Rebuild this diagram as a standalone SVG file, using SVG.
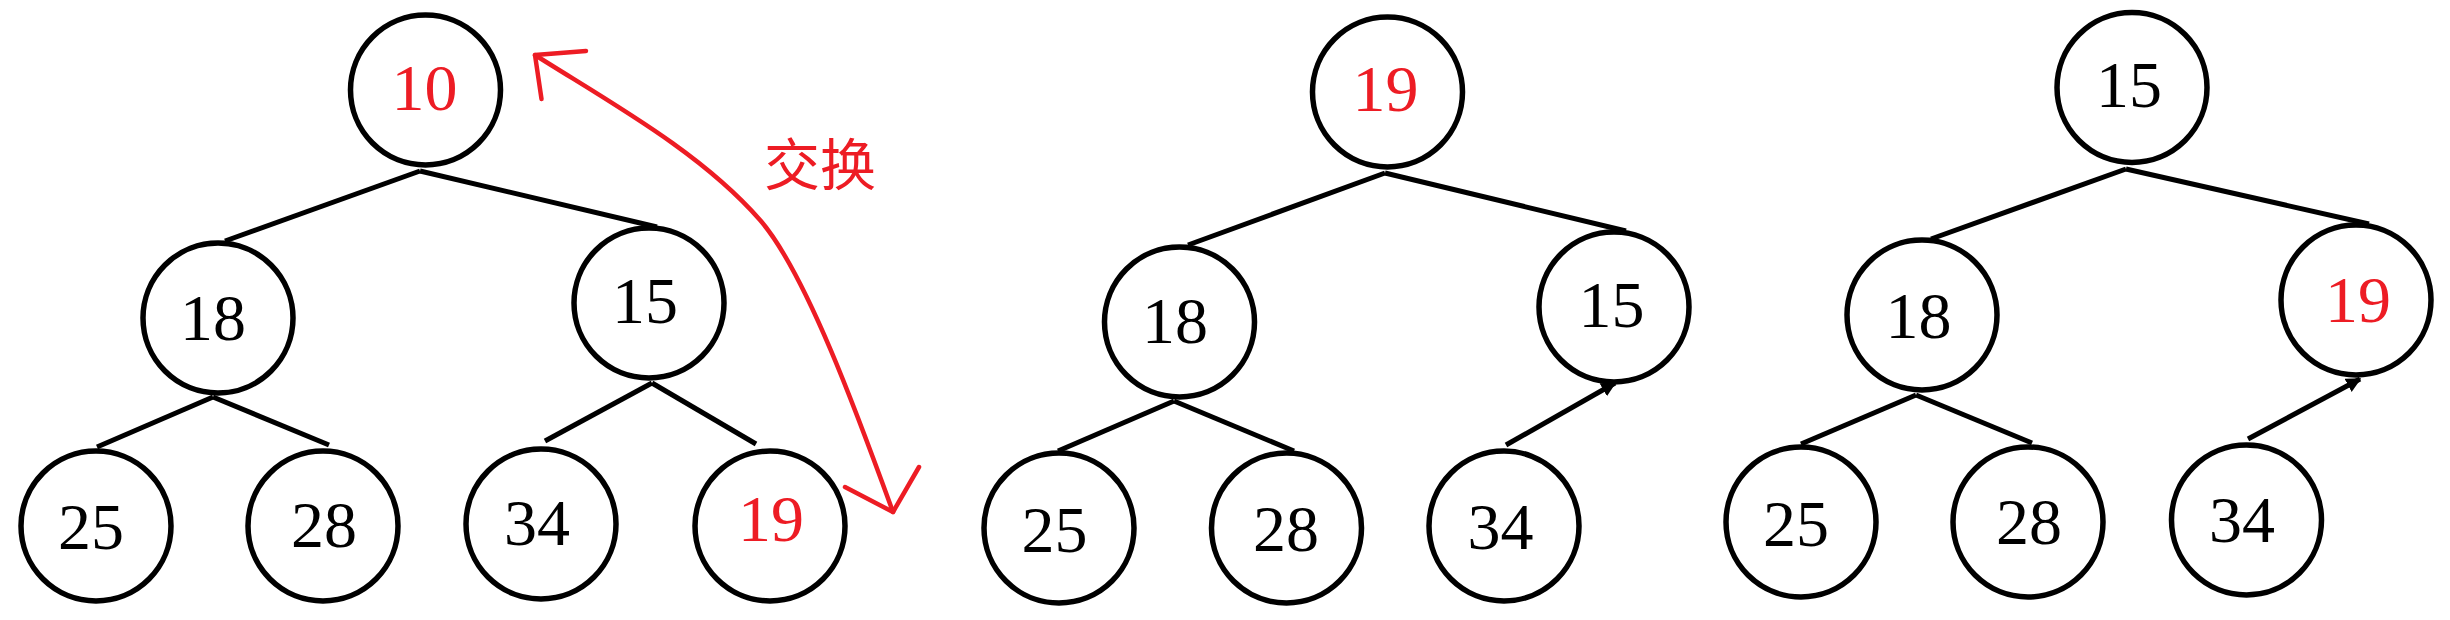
<svg xmlns="http://www.w3.org/2000/svg" width="2450" height="620" viewBox="0 0 2450 620">
<defs>
<style>
.n circle{fill:#fff;stroke:#000;stroke-width:5.5}
.n text{font-family:"Liberation Serif","Times New Roman",serif;font-size:66px;text-anchor:middle;fill:#000}
.n text.r{fill:#ED1C24}
.e line{stroke:#000;stroke-width:5;stroke-linecap:butt}
.sw{fill:none;stroke:#ED1C24;stroke-width:4.5;stroke-linecap:round;stroke-linejoin:round}
.lbl{font-family:"Noto Sans CJK SC","Noto Sans CJK JP",sans-serif;font-size:56px;fill:#ED1C24;text-anchor:middle}
</style>
<marker id="ah" viewBox="0 0 10 10" refX="9" refY="5" markerWidth="3" markerHeight="3" orient="auto" markerUnits="strokeWidth">
<path d="M0,0 L10,5 L0,10 z" fill="#000"/>
</marker>
</defs>
<rect width="2450" height="620" fill="#fff"/>
<g id="connectors" class="e">
<line x1="420" y1="171" x2="225" y2="241"/>
<line x1="420" y1="171" x2="657" y2="227"/>
<line x1="213" y1="397" x2="97" y2="447"/>
<line x1="213" y1="397" x2="329" y2="445"/>
<line x1="652" y1="383" x2="545" y2="441"/>
<line x1="652" y1="383" x2="756" y2="444"/>
<line x1="1385" y1="173" x2="1188" y2="245"/>
<line x1="1385" y1="173" x2="1626" y2="231"/>
<line x1="1174" y1="401" x2="1058" y2="451"/>
<line x1="1174" y1="401" x2="1294" y2="451"/>
<line x1="1506" y1="445" x2="1615" y2="383" marker-end="url(#ah)"/>
<line x1="2126" y1="169" x2="1931" y2="239"/>
<line x1="2126" y1="169" x2="2369" y2="224"/>
<line x1="1916" y1="395" x2="1801" y2="444"/>
<line x1="1916" y1="395" x2="2032" y2="443"/>
<line x1="2248" y1="439" x2="2360" y2="379" marker-end="url(#ah)"/>
</g>
<g id="swap">
<path class="sw" d="M535,55 C611,103 700.8,152.2 760,220 C806,272.7 858.8,418 893,512"/>
<path class="sw" d="M586,51 L535,55 L541.5,99"/>
<path class="sw" d="M845,487 L893,512 L919,467"/>
<text class="lbl" x="820" y="185">交换</text>
</g>
<g id="t1-10" class="n"><circle cx="425.5" cy="90" r="75"/><text class="r" x="424.5" y="110">10</text></g>
<g id="t1-18" class="n"><circle cx="218" cy="318" r="75"/><text x="213" y="340">18</text></g>
<g id="t1-15" class="n"><circle cx="649" cy="303" r="75"/><text x="645" y="323">15</text></g>
<g id="t1-25" class="n"><circle cx="96" cy="526" r="75"/><text x="91" y="549">25</text></g>
<g id="t1-28" class="n"><circle cx="323" cy="526" r="75"/><text x="324" y="547">28</text></g>
<g id="t1-34" class="n"><circle cx="541" cy="524" r="75"/><text x="537" y="545">34</text></g>
<g id="t1-19" class="n"><circle cx="770" cy="526" r="75"/><text class="r" x="771" y="541">19</text></g>
<g id="t2-19" class="n"><circle cx="1387.5" cy="92" r="75"/><text class="r" x="1385.5" y="111">19</text></g>
<g id="t2-18" class="n"><circle cx="1179.5" cy="322" r="75"/><text x="1175" y="343">18</text></g>
<g id="t2-15" class="n"><circle cx="1614" cy="307" r="75"/><text x="1611.5" y="327">15</text></g>
<g id="t2-25" class="n"><circle cx="1059" cy="528" r="75"/><text x="1054.5" y="552">25</text></g>
<g id="t2-28" class="n"><circle cx="1286.5" cy="528" r="75"/><text x="1286" y="551">28</text></g>
<g id="t2-34" class="n"><circle cx="1504" cy="526" r="75"/><text x="1500.5" y="549">34</text></g>
<g id="t3-15" class="n"><circle cx="2132" cy="87.5" r="75"/><text x="2129" y="107">15</text></g>
<g id="t3-18" class="n"><circle cx="1922" cy="315" r="75"/><text x="1918.5" y="337.5">18</text></g>
<g id="t3-19" class="n"><circle cx="2356" cy="300" r="75"/><text class="r" x="2358" y="321.5">19</text></g>
<g id="t3-25" class="n"><circle cx="1801" cy="522" r="75"/><text x="1796" y="546">25</text></g>
<g id="t3-28" class="n"><circle cx="2028" cy="522" r="75"/><text x="2029" y="544">28</text></g>
<g id="t3-34" class="n"><circle cx="2246.5" cy="520" r="75"/><text x="2242" y="542">34</text></g>
</svg>
